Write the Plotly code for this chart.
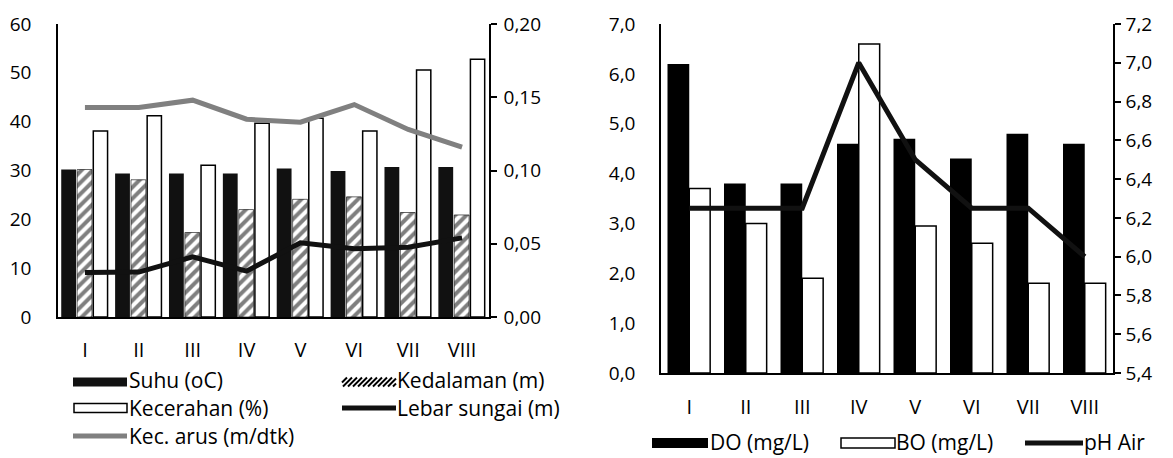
import plotly.graph_objects as go

W, H = 1173, 458

stations = ["I", "II", "III", "IV", "V", "VI", "VII", "VIII"]

# Left chart
suhu = [30.2, 29.4, 29.4, 29.4, 30.4, 29.9, 30.7, 30.7]          # Suhu (oC)
kedalaman = [30.2, 28.1, 17.3, 22.0, 24.1, 24.6, 21.4, 20.9]      # Kedalaman (m)
kecerahan = [38.1, 41.2, 31.1, 39.7, 40.7, 38.1, 50.6, 52.8]      # Kecerahan (%)
lebar = [9.1, 9.2, 12.3, 9.4, 15.2, 14.0, 14.3, 16.2]             # Lebar sungai (m)
arus = [0.143, 0.143, 0.148, 0.135, 0.133, 0.145, 0.128, 0.116]   # Kec. arus (m/dtk)

# Right chart
do_vals = [6.2, 3.8, 3.8, 4.6, 4.7, 4.3, 4.8, 4.6]                # DO (mg/L)
bo_vals = [3.7, 3.0, 1.9, 6.6, 2.95, 2.6, 1.8, 1.8]               # BO (mg/L)
ph_vals = [6.25, 6.25, 6.25, 7.0, 6.5, 6.25, 6.25, 6.0]           # pH Air

left_names = ["Suhu (oC)", "Kedalaman (m)", "Kecerahan (%)", "Lebar sungai (m)", "Kec. arus (m/dtk)"]
right_names = ["DO (mg/L)", "BO (mg/L)", "pH Air"]

FONT = "Open Sans"
TICK_FONT = dict(family=FONT, size=19, color="black")
XTICK_FONT = dict(family=FONT, size=20, color="black")
LEG_FONT = dict(family=FONT, size=21, color="black")


def px(x):
    return x / W


def py(y):
    return 1 - y / H


fig = go.Figure()

# ---- left chart bars ----
fig.add_trace(go.Bar(x=stations, y=suhu, name=left_names[0], xaxis="x", yaxis="y",
                     width=0.275, offset=-0.44,
                     marker=dict(color="#111111", line=dict(width=0))))
fig.add_trace(go.Bar(x=stations, y=kedalaman, name=left_names[1], xaxis="x", yaxis="y",
                     width=0.275, offset=-0.145,
                     marker=dict(color="white",
                                 pattern=dict(shape="/", fgcolor="black", bgcolor="white",
                                              size=8, solidity=0.5),
                                 line=dict(color="black", width=0.6))))
fig.add_trace(go.Bar(x=stations, y=kecerahan, name=left_names[2], xaxis="x", yaxis="y",
                     width=0.265, offset=0.155,
                     marker=dict(color="white", line=dict(color="black", width=1.5))))
fig.add_trace(go.Scatter(x=stations, y=lebar, name=left_names[3], xaxis="x", yaxis="y",
                         mode="lines", line=dict(color="#111111", width=5)))
fig.add_trace(go.Scatter(x=stations, y=arus, name=left_names[4], xaxis="x", yaxis="y2",
                         mode="lines", line=dict(color="#808080", width=5)))

# ---- right chart ----
fig.add_trace(go.Bar(x=stations, y=do_vals, name=right_names[0], xaxis="x3", yaxis="y3",
                     width=0.385, offset=-0.385,
                     marker=dict(color="black", line=dict(width=0))))
fig.add_trace(go.Bar(x=stations, y=bo_vals, name=right_names[1], xaxis="x3", yaxis="y3",
                     width=0.37, offset=0.0,
                     marker=dict(color="white", line=dict(color="black", width=1.5))))
fig.add_trace(go.Scatter(x=stations, y=ph_vals, name=right_names[2], xaxis="x3", yaxis="y4",
                         mode="lines", line=dict(color="#111111", width=5)))

axis_common = dict(showgrid=False, zeroline=False, showline=True, linecolor="black",
                   linewidth=1.5, fixedrange=True, automargin=False)

fig.update_layout(
    width=W, height=H,
    margin=dict(l=0, r=0, t=0, b=0, pad=0, autoexpand=False),
    paper_bgcolor="white", plot_bgcolor="white",
    showlegend=False,
    barmode="overlay",
    separators=",.",
    xaxis=dict(domain=[px(58), px(489)], anchor="y", range=[-0.5, 7.5],
               ticks="", ticklabelstandoff=14, tickfont=XTICK_FONT, **axis_common),
    yaxis=dict(domain=[py(317), py(24)], anchor="x", range=[0, 60], dtick=10,
               ticks="", ticklabelstandoff=21, tickfont=TICK_FONT, **axis_common),
    yaxis2=dict(overlaying="y", anchor="x", side="right", range=[0, 0.2], dtick=0.05,
                tickformat=".2f", ticks="outside", ticklen=6, tickwidth=1.5, tickcolor="black",
                ticklabelstandoff=3, tickfont=TICK_FONT, **axis_common),
    xaxis3=dict(domain=[px(661), px(1113)], anchor="y3", range=[-0.5, 7.5],
                ticks="", ticklabelstandoff=15, tickfont=XTICK_FONT, **axis_common),
    yaxis3=dict(domain=[py(373), py(24)], anchor="x3", range=[0, 7], dtick=1,
                tickformat=".1f", ticks="", ticklabelstandoff=20, tickfont=TICK_FONT, **axis_common),
    yaxis4=dict(overlaying="y3", anchor="x3", side="right", range=[5.4, 7.2], dtick=0.2,
                tickformat=".1f", ticks="outside", ticklen=6, tickwidth=1.5, tickcolor="black",
                ticklabelstandoff=1, tickfont=TICK_FONT, **axis_common),
)

# ---- custom legends (swatches + labels) ----
shapes = []
annotations = []


def rect_swatch(x0, x1, yc, h, fill, border):
    shapes.append(dict(type="rect", xref="paper", yref="paper",
                       x0=px(x0), x1=px(x1), y0=py(yc + h / 2), y1=py(yc - h / 2),
                       fillcolor=fill, line=dict(color="black", width=border)))


def line_swatch(x0, x1, yc, color):
    shapes.append(dict(type="line", xref="paper", yref="paper",
                       x0=px(x0), x1=px(x1), y0=py(yc), y1=py(yc),
                       line=dict(color=color, width=5)))


def hatch_swatch(x0, x1, yc, h):
    top, bot = yc - h / 2, yc + h / 2
    step = 5
    s = x0 - h
    while s < x1:
        a_x, a_y, b_x, b_y = s, bot, s + h, top
        if a_x < x0:
            a_y = bot - (x0 - a_x)
            a_x = x0
        if b_x > x1:
            b_y = top + (b_x - x1)
            b_x = x1
        if b_x > a_x:
            shapes.append(dict(type="line", xref="paper", yref="paper",
                               x0=px(a_x), x1=px(b_x), y0=py(a_y), y1=py(b_y),
                               line=dict(color="black", width=2)))
        s += step


def label(x, yc, text):
    annotations.append(dict(xref="paper", yref="paper", x=px(x), y=py(yc),
                            xanchor="left", yanchor="middle", showarrow=False,
                            text=text, font=LEG_FONT))


# left chart legend
rect_swatch(73, 127, 382, 9, "#111111", 0)
label(127, 380, left_names[0])
hatch_swatch(342, 396, 382, 9)
label(395, 380, left_names[1])
rect_swatch(74, 127, 408, 9, "white", 1.5)
label(127, 408, left_names[2])
line_swatch(342, 396, 408, "#111111")
label(395, 408, left_names[3])
line_swatch(73, 127, 436, "#808080")
label(127, 436, left_names[4])

# right chart legend
rect_swatch(652, 708, 443, 10, "black", 0)
label(708, 442, right_names[0])
rect_swatch(841, 895, 443, 10, "white", 1.5)
label(894, 442, right_names[1])
line_swatch(1025, 1083, 443, "#111111")
label(1082, 442, right_names[2])

fig.update_layout(shapes=shapes, annotations=annotations)

fig.write_html("out.html")
